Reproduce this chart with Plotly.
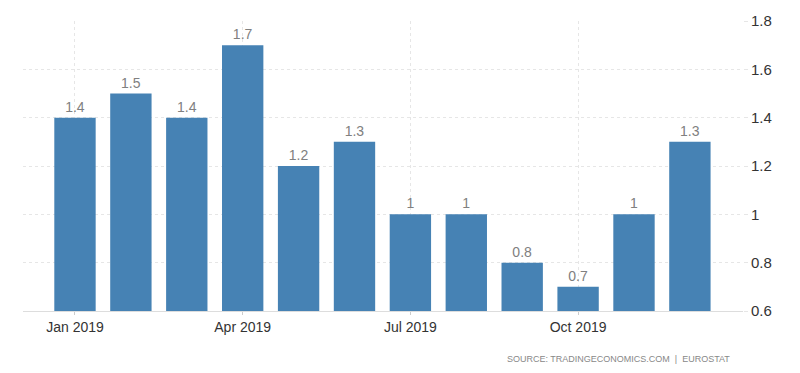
import plotly.graph_objects as go

months = ["Jan 2019", "Feb 2019", "Mar 2019", "Apr 2019", "May 2019", "Jun 2019",
          "Jul 2019", "Aug 2019", "Sep 2019", "Oct 2019", "Nov 2019", "Dec 2019"]
values = [1.4, 1.5, 1.4, 1.7, 1.2, 1.3, 1.0, 1.0, 0.8, 0.7, 1.0, 1.3]
labels = ["1.4", "1.5", "1.4", "1.7", "1.2", "1.3", "1", "1", "0.8", "0.7", "1", "1.3"]
x_ticks = ["Jan 2019", "Apr 2019", "Jul 2019", "Oct 2019"]
y_ticks = [0.6, 0.8, 1.0, 1.2, 1.4, 1.6, 1.8]
y_tick_text = ["0.6", "0.8", "1", "1.2", "1.4", "1.6", "1.8"]

FONT = "Liberation Sans Narrow, Arial Narrow, Liberation Sans, sans-serif"

fig = go.Figure()
fig.add_trace(go.Bar(
    x=months, y=values, text=labels, textposition="outside",
    textfont=dict(color="#808080", size=14, family=FONT),
    marker=dict(color="#4682B4", line=dict(width=0)),
    width=0.74, cliponaxis=False,
))

fig.update_layout(
    width=800, height=373,
    margin=dict(l=23, r=57, t=21, b=62),
    paper_bgcolor="white", plot_bgcolor="white",
    showlegend=False,
    font=dict(family=FONT, color="#333333"),
    xaxis=dict(
        type="category", range=[-0.93, 11.95],
        tickmode="array", tickvals=x_ticks, ticktext=x_ticks,
        showgrid=True, gridcolor="#e6e6e6", griddash="dot",
        ticks="outside", ticklen=3, tickcolor="#cccccc",
        showline=True, linecolor="#dddddd",
        tickfont=dict(size=14, color="#333333", family=FONT),
    ),
    yaxis=dict(
        range=[0.6, 1.8], side="right",
        tickmode="array", tickvals=y_ticks, ticktext=y_tick_text,
        showgrid=True, gridcolor="#e6e6e6", griddash="dot",
        zeroline=False,
        tickfont=dict(size=15, color="#333333", family=FONT),
        ticks="outside", ticklen=4, tickcolor="#e6e6e6",
    ),
    bargap=0.26,
)

fig.add_annotation(
    text="SOURCE: TRADINGECONOMICS.COM  |  EUROSTAT",
    xref="paper", yref="paper", x=0.985, y=-0.14,
    xanchor="right", yanchor="top", showarrow=False,
    font=dict(size=9, color="#888888", family=FONT),
)

fig.write_html("out.html", config={"displayModeBar": False},
               post_script="document.body.style.margin='0';")
